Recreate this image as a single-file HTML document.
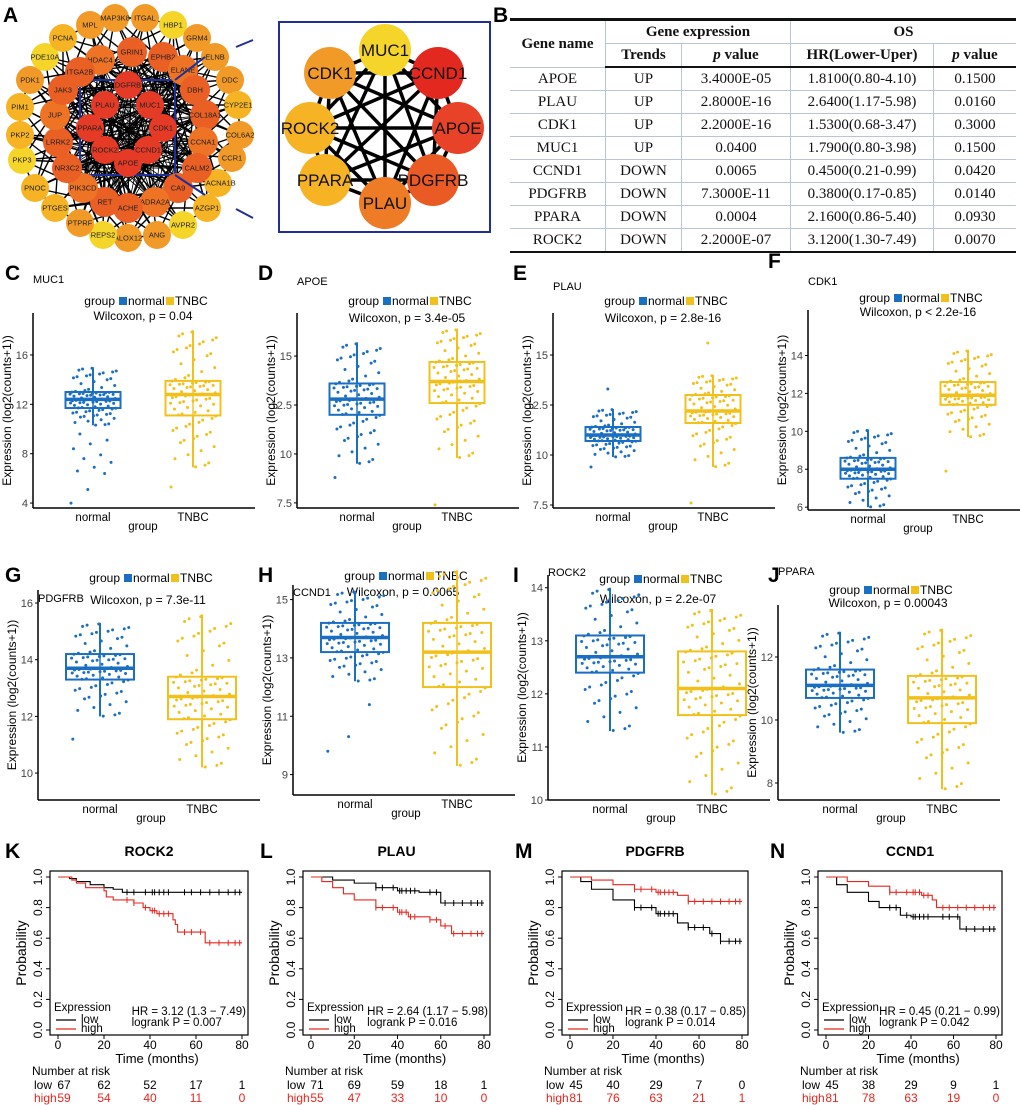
<!DOCTYPE html>
<html><head><meta charset="utf-8"><style>
body{margin:0;background:#fff;width:1020px;height:1105px;position:relative;overflow:hidden;font-family:"Liberation Sans",Arial,sans-serif}
#tbl{position:absolute;left:510px;top:18px;width:506px;border-collapse:collapse;font-family:"Liberation Serif",serif;font-size:15px;color:#111}
#tbl td,#tbl th{border:1px solid #b8c4d8;text-align:center;padding:0;height:22px;line-height:20px}
#tbl th{font-weight:bold}
#tbl tr.top th{border-top:3px solid #111}
#tbl tr.hd2 th{border-bottom:2px solid #111}
#tbl tr:last-child td{border-bottom:2px solid #111}
#tbl tr td:first-child,#tbl tr th:first-child{border-left:none}
#tbl tr td:last-child,#tbl tr th:last-child{border-right:none}
svg{position:absolute;left:0;top:0}
</style></head><body>
<svg id="svg" width="1020" height="1105"></svg>
<table id="tbl">
<tr class="top"><th rowspan="2" style="width:95px">Gene name</th><th colspan="2">Gene expression</th><th colspan="2">OS</th></tr>
<tr class="hd2"><th style="width:75px">Trends</th><th style="width:108px"><i>p</i> value</th><th style="width:142px">HR(Lower-Uper)</th><th><i>p</i> value</th></tr>
<tr><td>APOE</td><td>UP</td><td>3.4000E-05</td><td>1.8100(0.80-4.10)</td><td>0.1500</td></tr>
<tr><td>PLAU</td><td>UP</td><td>2.8000E-16</td><td>2.6400(1.17-5.98)</td><td>0.0160</td></tr>
<tr><td>CDK1</td><td>UP</td><td>2.2000E-16</td><td>1.5300(0.68-3.47)</td><td>0.3000</td></tr>
<tr><td>MUC1</td><td>UP</td><td>0.0400</td><td>1.7900(0.80-3.98)</td><td>0.1500</td></tr>
<tr><td>CCND1</td><td>DOWN</td><td>0.0065</td><td>0.4500(0.21-0.99)</td><td>0.0420</td></tr>
<tr><td>PDGFRB</td><td>DOWN</td><td>7.3000E-11</td><td>0.3800(0.17-0.85)</td><td>0.0140</td></tr>
<tr><td>PPARA</td><td>DOWN</td><td>0.0004</td><td>2.1600(0.86-5.40)</td><td>0.0930</td></tr>
<tr><td>ROCK2</td><td>DOWN</td><td>2.2000E-07</td><td>3.1200(1.30-7.49)</td><td>0.0070</td></tr>
</table>
<script>
// ---------- data ----------
const outerNames=["MPL","MAP3K8","ITGAL","HBP1","GRM4","ELNB","DDC","CYP2E1","COL6A2","CCR1","CACNA1B","AZGP1","AVPR2","ANG","ALOX12","REPS2","PTPRF","PTGES","PNOC","PKP3","PKP2","PIM1","PDK1","PDE10A","PCNA"];
const middleNames=["HDAC4","GRIN1","EPHB2","ELANE","DBH","COL18A1","CCNA1","CALM2","CA9","ADRA2A","ACHE","RET","PIK3CD","NR3C2","LRRK2","JUP","JAK3","ITGA2B"];
const innerNames=["DGFRB","MUC1","CDK1","CCND1","APOE","ROCK2","PPARA","PLAU"];
const hubNames=["MUC1","CCND1","APOE","PDGFRB","PLAU","PPARA","ROCK2","CDK1"];
const hubColors=["#f6d52a","#e3281f","#e84229","#ea5a24","#ee7b25","#f6b425","#f6b425","#f29a27"];

const boxGenes=["MUC1","APOE","PLAU","CDK1","PDGFRB","CCND1","ROCK2","PPARA"];
const boxPvals=["p = 0.04","p = 3.4e-05","p = 2.8e-16","p < 2.2e-16","p = 7.3e-11","p = 0.0065","p = 2.2e-07","p = 0.00043"];
const boxTicks=[[4,8,12,16],[7.5,10,12.5,15],[7.5,10,12.5,15],[6,8,10,12,14],[10,12,14,16],[9,11,13,15],[10,11,12,13,14],[8,10,12]];
// [whiskerLow, Q1, median, Q3, whiskerHigh]
const normalStats=[[10.3,11.7,12.4,13.0,15.0],[9.5,12.0,12.8,13.6,15.7],[9.9,10.7,11.0,11.4,12.3],[6.0,7.5,8.0,8.6,10.1],[12.0,13.3,13.7,14.2,15.3],[12.2,13.2,13.7,14.2,15.3],[11.3,12.4,12.7,13.1,14.0],[9.6,10.7,11.1,11.6,12.8]];
const tnbcStats=[[6.9,11.1,12.8,13.9,18.0],[9.8,12.6,13.7,14.7,16.4],[9.4,11.6,12.2,13.0,14.0],[9.7,11.4,11.9,12.6,14.3],[10.2,11.9,12.7,13.4,15.6],[9.3,12.0,13.2,14.2,16.0],[10.1,11.6,12.1,12.8,13.6],[7.8,9.9,10.7,11.4,12.9]];
const normalOutliers=[[4,5.1,6.4,6.6,6.9,7.3,7.6,7.9,8.4,8.8,9.1,9.6],[8.8],[9.4,13.3],[],[11.2],[9.8,10.3,11.4],[],[]];
const tnbcOutliers=[[5.3],[7.4],[7.6,15.6],[7.9],[],[],[],[]];

const kmGenes=["ROCK2","PLAU","PDGFRB","CCND1"];
const kmHR=["HR = 3.12 (1.3 − 7.49)","HR = 2.64 (1.17 − 5.98)","HR = 0.38 (0.17 − 0.85)","HR = 0.45 (0.21 − 0.99)"];
const kmP=["logrank P = 0.007","logrank P = 0.016","logrank P = 0.014","logrank P = 0.042"];
const kmLowT=[[0,5,8,14,20,24,28,80],[0,10,20,30,40,50,60,80],[0,5,10,20,30,40,50,55,65,70,80],[0,5,10,20,25,35,40,60,63,80]];
const kmLowS=[[1,0.99,0.97,0.95,0.93,0.92,0.90,0.90],[1,0.98,0.96,0.93,0.91,0.90,0.83,0.83],[1,0.97,0.92,0.85,0.80,0.76,0.70,0.67,0.63,0.58,0.58],[1,0.95,0.90,0.84,0.80,0.75,0.74,0.74,0.66,0.66]];
const kmHighT=[[0,6,8,12,20,21,24,33,37,40,43,50,51,52,64,80],[0,5,10,15,20,30,40,45,55,60,65,80],[0,10,20,30,40,50,55,80],[0,10,20,30,45,50,52,80]];
const kmHighS=[[1,0.98,0.96,0.93,0.91,0.87,0.85,0.83,0.80,0.78,0.76,0.72,0.69,0.64,0.57,0.57],[1,0.97,0.93,0.89,0.85,0.80,0.77,0.74,0.72,0.68,0.63,0.63],[1,0.98,0.95,0.92,0.90,0.88,0.84,0.84],[1,0.97,0.94,0.90,0.88,0.85,0.80,0.80]];
const kmCensor=[30,33,38,41,42,44,46,48,55,58,62,66,70,74,77,79];
const riskLow=[[67,62,52,17,1],[71,69,59,18,1],[45,40,29,7,0],[45,38,29,9,1]];
const riskHigh=[[59,54,40,11,0],[55,47,33,10,0],[81,76,63,21,1],[81,78,63,19,0]];
const kmXTicks=[0,20,40,60,80];
const kmYTicks=[0,0.2,0.4,0.6,0.8,1.0];

// ---------- helpers ----------
const S=document.getElementById('svg');const NS='http://www.w3.org/2000/svg';
function mk(tag,at,par){const e=document.createElementNS(NS,tag);for(const k in at)e.setAttribute(k,at[k]);(par||S).appendChild(e);return e;}
function tx(x,y,s,at,par){const e=mk('text',Object.assign({x:x,y:y,'font-family':'Liberation Sans, Arial, sans-serif'},at),par);e.textContent=s;return e;}
function lab(x,y,s){const e=tx(x,y,s,{'font-size':21,'font-weight':'bold'});

}
['A','B'].forEach((l,i)=>lab([3,493][i],22,l));

// ---------- network A ----------
const outerPos=[[90,25],[115,18],[145,18],[173,25],[197,38],[215,57],[230,80],[238,105],[240,135],[232,158],[218,183],[207,208],[183,225],[157,235],[128,238],[103,235],[80,223],[55,208],[35,188],[22,160],[20,135],[20,107],[30,80],[45,57],[63,38]];
const outerCol=["#f29a27","#f29a27","#f29a27","#f6d52a","#f29a27","#f29a27","#f29a27","#f6b425","#f29a27","#f29a27","#f6b425","#f6b425","#f6d52a","#f29a27","#f29a27","#f6d52a","#f29a27","#f6b425","#f6b425","#f6d52a","#f6b425","#f6b425","#f29a27","#f6d52a","#f6b425"];
const midPos=[[100,60],[132,52],[163,57],[183,70],[195,90],[205,115],[203,142],[197,168],[178,188],[155,202],[128,208],[105,202],[83,188],[67,168],[58,142],[55,115],[63,90],[80,72]];
const innerPos=[[128,85],[150,105],[163,128],[148,150],[128,163],[105,150],[90,128],[105,105]];
const net=mk('g',{});


const eg=mk('g',{stroke:'#000','stroke-width':1.4},net);
for(let i=0;i<outerPos.length;i++){for(let k=0;k<4;k++){const j=(i*7+k*5)%midPos.length;const a=outerPos[i],b=midPos[j];mk('line',{x1:a[0],y1:a[1],x2:b[0],y2:b[1]},eg);}
 const b=innerPos[i%8];mk('line',{x1:outerPos[i][0],y1:outerPos[i][1],x2:b[0],y2:b[1]},eg);
 const c=outerPos[(i+1)%outerPos.length];mk('line',{x1:outerPos[i][0],y1:outerPos[i][1],x2:c[0],y2:c[1]},eg);}
for(let i=0;i<midPos.length;i++){for(let k=0;k<8;k++){const b=innerPos[k];mk('line',{x1:midPos[i][0],y1:midPos[i][1],x2:b[0],y2:b[1],'stroke-width':0.8},eg);}
 for(let k=1;k<6;k++){const c=midPos[(i+k*3)%midPos.length];mk('line',{x1:midPos[i][0],y1:midPos[i][1],x2:c[0],y2:c[1],'stroke-width':0.7},eg);}}
mk('rect',{x:80,y:80,width:95,height:95,fill:'none',stroke:'#1f2f9a','stroke-width':2},net);
function node(p,r,col,name,fs){const g=mk('g',{},net);mk('circle',{cx:p[0],cy:p[1],r:r,fill:col},g);tx(p[0],p[1]+fs*0.36,name,{'font-size':fs,'text-anchor':'middle',fill:'#222'},g);

}
outerPos.forEach((p,i)=>node(p,14,outerCol[i],outerNames[i],7.5));
midPos.forEach((p,i)=>node(p,15,i%3==0?'#ee7325':'#ea5f24',middleNames[i],7.5));
innerPos.forEach((p,i)=>node(p,14,'#e53a25',innerNames[i],7.5));
[[175,80,205,57],[175,175,205,195],[236,47,253,40],[236,209,253,218]].forEach(l=>mk('line',{x1:l[0],y1:l[1],x2:l[2],y2:l[3],stroke:'#1f2f9a','stroke-width':2}));
const ins=mk('g',{});


mk('rect',{x:279,y:22,width:211,height:210,fill:'#fff',stroke:'#1f2f9a','stroke-width':2},ins);
const hubPos=[[385,50],[438,73],[458,128],[433,180],[385,203],[325,180],[310,128],[330,73]];
for(let i=0;i<8;i++)for(let j=i+1;j<8;j++)mk('line',{x1:hubPos[i][0],y1:hubPos[i][1],x2:hubPos[j][0],y2:hubPos[j][1],stroke:'#000','stroke-width':3.5},ins);
hubPos.forEach((p,i)=>{const g=mk('g',{},ins);mk('circle',{cx:p[0],cy:p[1],r:26,fill:hubColors[i]},g);tx(p[0],p[1]+6,hubNames[i],{'font-size':17,'text-anchor':'middle',fill:'#111'},g);

});

// ---------- box plots ----------
const bpAxisX=[33,297,553,808,38,293,548,778];
const bpBottom=[508,508,508,510,800,795,800,800];
const bpTop=[313,313,313,310,590,585,575,605];
const bpVTop=[19.4,17.2,17.1,16.4,16.46,15.5,14.24,13.65];
const bpVBot=[3.6,7.24,7.35,5.85,9.05,8.3,10.0,7.46];
const bpTitleY=[283,285,290,285,602,596,576,575];
const bpLegY=[305,305,305,302,582,580,583,594];
const bpWilY=[320,322,322,316,604,596,603,607];
const letters=['C','D','E','F','G','H','I','J'];
const letterXY=[[5,280],[258,280],[513,280],[768,268],[5,582],[258,582],[513,582],[768,582]];
const BLUE='#1b6fc2',GOLD='#f2c01a';
for(let p=0;p<8;p++){
 const g=mk('g',{});
 
 
 lab(letterXY[p][0],letterXY[p][1],letters[p]);
 const ax=bpAxisX[p],bot=bpBottom[p],top=bpTop[p];
 const y=v=>bot+(v-bpVBot[p])*(top-bot)/(bpVTop[p]-bpVBot[p]);
 const bw=p<4?55:68,cN=ax+(p<4?60:62),cT=ax+(p<4?160:164);
 mk('line',{x1:ax,y1:top,x2:ax,y2:bot,stroke:'#000','stroke-width':1.5},g);
 mk('line',{x1:ax,y1:bot,x2:ax+222,y2:bot,stroke:'#000','stroke-width':1.5},g);
 boxTicks[p].forEach(t=>{mk('line',{x1:ax-3,y1:y(t),x2:ax,y2:y(t),stroke:'#000'},g);tx(ax-5,y(t)+4,String(t),{'font-size':11,'text-anchor':'end',fill:'#444'},g);});
 tx(0,0,'Expression  (log2(counts+1))',{'font-size':12,'text-anchor':'middle',transform:`translate(${ax-22},${(top+bot)/2}) rotate(-90)`},g);
 tx(cN,bot+13,'normal',{'font-size':11.5,'text-anchor':'middle'},g);
 tx(cT,bot+13,'TNBC',{'font-size':11.5,'text-anchor':'middle'},g);
 tx((cN+cT)/2,bot+22,'group',{'font-size':11.5,'text-anchor':'middle'},g);
 tx(ax,bpTitleY[p],boxGenes[p],{'font-size':11},g);
 const lx=ax+82;
 tx(lx,bpLegY[p],'group',{'font-size':12,'text-anchor':'end'},g);
 mk('rect',{x:lx+4,y:bpLegY[p]-8,width:8,height:8,fill:BLUE},g);
 tx(lx+13,bpLegY[p],'normal',{'font-size':12},g);
 mk('rect',{x:lx+51,y:bpLegY[p]-8,width:8,height:8,fill:GOLD},g);
 tx(lx+60,bpLegY[p],'TNBC',{'font-size':12},g);
 tx(ax+110,bpWilY[p],'Wilcoxon, '+boxPvals[p],{'font-size':12,'text-anchor':'middle'},g);
 [[normalStats[p],normalOutliers[p],cN,BLUE],[tnbcStats[p],tnbcOutliers[p],cT,GOLD]].forEach(([st,out,cx,col],gi)=>{
  const bg=mk('g',{},g);
  
  
  mk('line',{x1:cx,y1:y(st[0]),x2:cx,y2:y(st[4]),stroke:col,'stroke-width':2},bg);
  mk('rect',{x:cx-bw/2,y:y(st[3]),width:bw,height:y(st[1])-y(st[3]),fill:'#fff','fill-opacity':0.3,stroke:col,'stroke-width':2},bg);
  mk('line',{x1:cx-bw/2,y1:y(st[2]),x2:cx+bw/2,y2:y(st[2]),stroke:col,'stroke-width':3.5},bg);
  const n=80;
  for(let i=0;i<n;i++){const u=((i*0.7548776+0.13)%1);const seg=Math.min(3,Math.floor(u*4)),f=u*4-seg;const v=st[seg]+(st[seg+1]-st[seg])*f;
   const jx=((i*0.5698403+0.31)%1-0.5)*bw*0.85;mk('circle',{cx:cx+jx,cy:y(v),r:1.5,fill:col},bg);}
  out.forEach((v,i)=>mk('circle',{cx:cx+((i*0.382)%1-0.5)*bw*0.8,cy:y(v),r:1.5,fill:col},bg));
 });
}

// ---------- KM plots ----------
const kmLeft=[50,303,562,818],kmW=[198,187,186,184];
const kmL=['K','L','M','N'],kmLX=[5,260,515,770];
const kTop=871,kBot=1035;
for(let p=0;p<4;p++){
 const g=mk('g',{});
 
 
 lab(kmLX[p],858,kmL[p]);
 const L=kmLeft[p],R=L+kmW[p];
 const x=t=>L+8+t*(kmW[p]-14)/80, y=s=>1030-s*153;
 mk('rect',{x:L,y:kTop,width:kmW[p],height:kBot-kTop,fill:'none',stroke:'#000','stroke-width':1.2},g);
 tx((L+R)/2,856,kmGenes[p],{'font-size':14,'font-weight':'bold','text-anchor':'middle'},g);
 kmXTicks.forEach(t=>{mk('line',{x1:x(t),y1:kBot,x2:x(t),y2:kBot+4,stroke:'#000'},g);tx(x(t),kBot+14,String(t),{'font-size':12,'text-anchor':'middle'},g);});
 kmYTicks.forEach(t=>{mk('line',{x1:L-4,y1:y(t),x2:L,y2:y(t),stroke:'#000'},g);tx(0,0,t.toFixed(1),{'font-size':12,'text-anchor':'middle',transform:`translate(${L-8},${y(t)}) rotate(-90)`},g);});
 tx(0,0,'Probability',{'font-size':14,'text-anchor':'middle',transform:`translate(${L-24},${(kTop+kBot)/2}) rotate(-90)`},g);
 tx((L+R)/2+8,1063,'Time (months)',{'font-size':13,'text-anchor':'middle'},g);
 [[kmLowT[p],kmLowS[p],'#000','low'],[kmHighT[p],kmHighS[p],'#e8261e','high']].forEach(([T,Sv,col,nm])=>{
  let d='M'+x(T[0])+','+y(Sv[0]);for(let i=1;i<T.length;i++)d+='H'+x(T[i])+'V'+y(Sv[i]);
  const c=mk('path',{d:d,fill:'none',stroke:col,'stroke-width':1.1},g);
  
  
  kmCensor.forEach(ct=>{let s=Sv[0];for(let i=0;i<T.length;i++)if(T[i]<=ct)s=Sv[i];mk('line',{x1:x(ct),y1:y(s)-3,x2:x(ct),y2:y(s)+3,stroke:col},g);});
 });
 tx(L+4,1011,'Expression',{'font-size':11.5},g);
 mk('line',{x1:L+6,y1:1020,x2:L+26,y2:1020,stroke:'#000','stroke-width':1.2},g);
 mk('line',{x1:L+6,y1:1029,x2:L+26,y2:1029,stroke:'#e8261e','stroke-width':1.2},g);
 tx(L+31,1023,'low',{'font-size':11.5},g);tx(L+31,1032,'high',{'font-size':11.5},g);
 const hr=tx(R-2,1015,kmHR[p],{'font-size':11.5,'text-anchor':'end'},g);
 let hw=118;try{hw=hr.getComputedTextLength();}catch(e){}
 tx(R-2-hw,1026,kmP[p],{'font-size':11.5},g);
 tx(L-18,1075,'Number at risk',{'font-size':12},g);
 tx(L-16,1089,'low',{'font-size':12},g);
 tx(L-16,1102,'high',{'font-size':12,fill:'#e8261e'},g);
 kmXTicks.forEach((t,i)=>{tx(x(t)+(i?0:6),1089,String(riskLow[p][i]),{'font-size':12,'text-anchor':'middle'},g);
  tx(x(t)+(i?0:6),1102,String(riskHigh[p][i]),{'font-size':12,'text-anchor':'middle',fill:'#e8261e'},g);});
}
</script>
</body></html>
